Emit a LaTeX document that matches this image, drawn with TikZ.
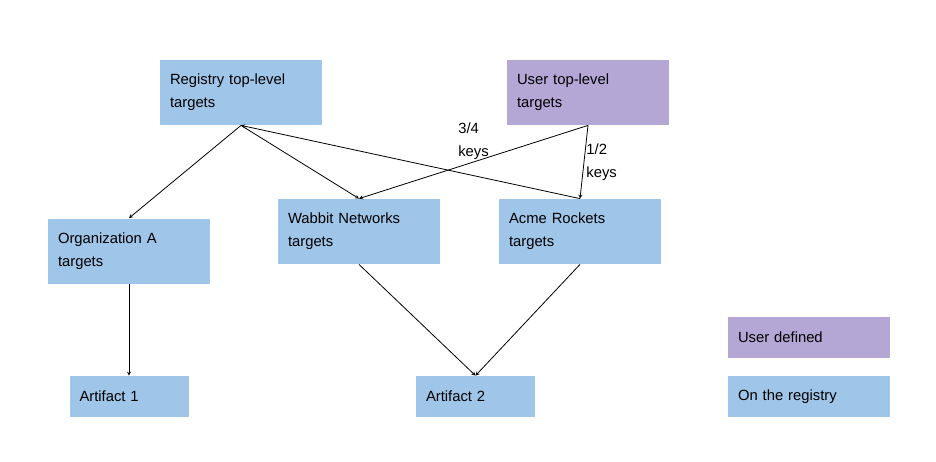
\documentclass[tikz,border=0pt]{standalone}
\usepackage{fontspec}
\setmainfont{Liberation Sans}
\definecolor{regblue}{HTML}{9FC5E8}
\definecolor{userpurple}{HTML}{B4A7D6}
\begin{document}
\begin{tikzpicture}[x=1pt, y=-1pt, line join=round, >=stealth, line width=0.8pt,
	box/.style={fill=regblue, minimum height=65pt, text width=142pt, inner xsep=10pt, inner ysep=0pt, align=left, font=\fontsize{14.8}{23}\selectfont},
	small/.style={box, minimum height=41pt, text width=99pt},
	wide/.style={box, minimum height=41pt},
	lbl/.style={align=left, font=\fontsize{14.8}{23}\selectfont, inner sep=2pt}]
	\useasboundingbox (0,0) rectangle (936,461);
	\node[box] (reg) at (241,92.5) {Registry top-level\\targets};
	\node[box, fill=userpurple] (user) at (588,92.5) {User top-level\\targets};
	\node[box] (orga) at (129,251) {Organization A\\targets};
	\node[box] (wabbit) at (359,231.5) {Wabbit Networks\\targets};
	\node[box] (acme) at (580,231.5) {Acme Rockets\\targets};
	\node[small] (art1) at (129,396.5) {Artifact 1};
	\node[small] (art2) at (475.5,396.5) {Artifact 2};
	\node[wide, fill=userpurple] (legu) at (809,337.5) {User defined};
	\node[wide] (legr) at (809,396.5) {On the registry};
	% delegations
	\draw[->] (reg.south) -- (orga.north);
	\draw[->] (reg.south) -- (wabbit.north);
	\draw[->] (acme.north) -- (reg.south);
	\draw[->] (user.south) -- node[lbl, midway, above]{3/4\\keys} (wabbit.north);
	\draw[->] (user.south) -- node[lbl, midway, right]{1/2\\keys} (acme.north);
	\draw[->] (orga.south) -- (art1.north);
	\draw[->] (wabbit.south) -- (art2.north);
	\draw[->] (acme.south) -- (art2.north);
\end{tikzpicture}
\end{document}
